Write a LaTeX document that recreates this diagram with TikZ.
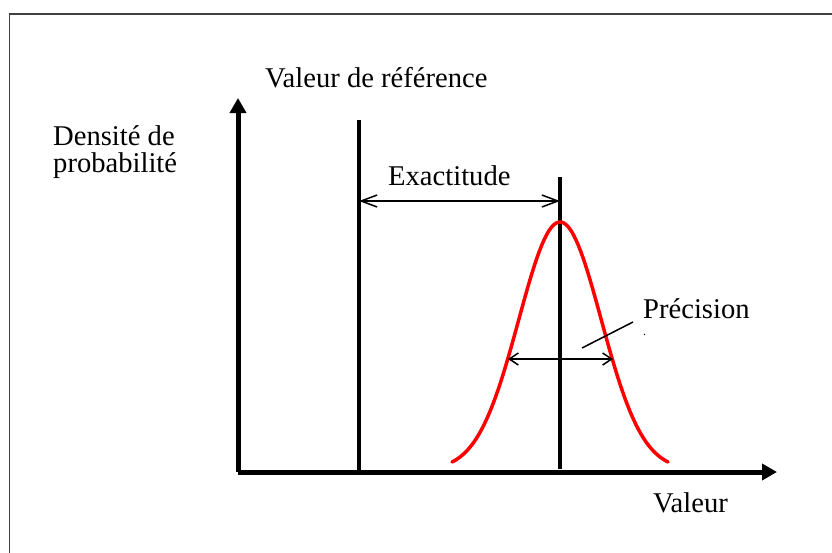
\documentclass[tikz,border=0pt]{standalone}
\usepackage{fontspec}
\setmainfont{Liberation Serif}
\usetikzlibrary{arrows.meta}

\tikzset{
  axe/.style={line width=5pt, -{Triangle[length=15pt,width=16pt]}},
  repere/.style={line width=4pt},
  cote/.style={line width=1.5pt, {Straight Barb[length=#1,width=12pt]}-{Straight Barb[length=#1,width=12pt]}},
  etiquette/.style={font=\fontsize{28.6}{30}\selectfont, inner sep=0pt, anchor=base west},
}

\begin{document}
\begin{tikzpicture}[x=1pt,y=-1pt]
  \useasboundingbox (0,0) rectangle (832,552);
  \clip (0,0) rectangle (832,552);
  % cadre
  \draw[black!75, line width=1.6pt] (9.5,14) rectangle (850,570);

  % axes
  \coordinate (origine) at (238,472);
  \coordinate (haut) at (238,98);
  \coordinate (droite) at (777,472);
  \draw[axe] (origine) -- (haut);
  \draw[axe] (origine) -- (droite);

  % valeur de reference et moyenne
  \coordinate (ref haut) at (359,120);
  \coordinate (ref bas) at (359,470);
  \coordinate (moy haut) at (560,177);
  \coordinate (moy bas) at (560,469);
  \draw[repere] (ref bas) -- (ref haut);
  \draw[repere] (moy bas) -- (moy haut);

  % courbe
  \draw[red, line width=3.5pt, line cap=round, domain=-108:108, samples=90]
    plot ({560+\x}, {470-248*exp(-(\x)^2/3396)});

  % cotes
  \coordinate (exact g) at (359,201);
  \coordinate (exact d) at (560,201);
  \draw[cote=16pt] (exact g) -- (exact d);
  \coordinate (prec g) at (508,359);
  \coordinate (prec d) at (613,359);
  \draw[cote=9pt] (prec g) -- (prec d);
  \coordinate (lien a) at (633,322);
  \coordinate (lien b) at (582,348);
  \draw[line width=1.5pt] (lien a) -- (lien b);

  % textes
  \node[etiquette] (titre ref) at (265,87) {Valeur de référence};
  \node[etiquette] (densite) at (53,145) {Densité de};
  \node[etiquette] (proba) at (53,172) {probabilité};
  \node[etiquette] (exactitude) at (388,185) {Exactitude};
  \node[etiquette] (precision) at (643,318) {Précision};
  \node[etiquette, font=\fontsize{12}{14}\selectfont] (point) at (643,335) {.};
  \node[etiquette] (valeur) at (653,512) {Valeur};
\end{tikzpicture}
\end{document}
